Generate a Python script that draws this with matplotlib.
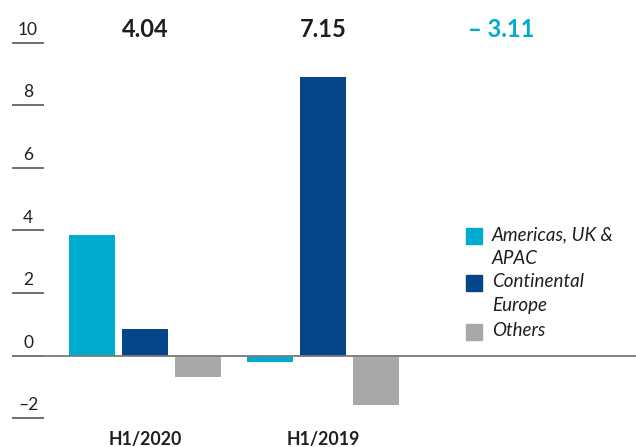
import matplotlib
matplotlib.use("Agg")
import matplotlib.pyplot as plt
from matplotlib.patches import Rectangle
import numpy as np

plt.rcParams['font.family'] = ['Lato', 'DejaVu Sans']

# ===== data =====
periods  = ["H1/2020", "H1/2019"]
regions  = ["Americas, UK &\nAPAC", "Continental\nEurope", "Others"]
americas = [3.87, -0.19]
europe   = [0.85, 8.90]
others   = [-0.68, -1.56]
totals   = ["4.04", "7.15", "– 3.11"]
yticks   = [10, 8, 6, 4, 2, 0, -2]
ytick_labels = ["10", "8", "6", "4", "2", "0", "–2"]

COLORS = ["#00acce", "#05458a", "#a8a8a8"]
TEXT = "#1e1e1e"

W, H = 636, 447
fig = plt.figure(figsize=(W / 100, H / 100), dpi=100)
ax = fig.add_axes([0, 0, 1, 1])
ax.set_xlim(-0.8146, 2.758)
ax.set_ylim(-2.917, 11.364)
ax.axis("off")

x = np.arange(len(periods))
width = 0.262
step = 0.298
for i, vals in enumerate([americas, europe, others]):
    ax.bar(x + (i - 1) * step, vals, width=width, color=COLORS[i], zorder=2)

# zero line across the full width
ax.hlines(0, -0.747, 2.758, color="#7a7a7a", lw=1.3, zorder=3)

# y ticks: short lines with labels above them
for v, lab in zip(yticks, ytick_labels):
    ax.hlines(v, -0.747, -0.567, color="#555555", lw=1.2)
    ax.text(-0.657, v + 0.25, lab, ha="center", va="baseline",
            fontsize=12.5, color=TEXT)

# totals on top
for i, t in enumerate(totals):
    ax.text(i, 10.41, t, ha="center", va="center", fontsize=17,
            fontweight="bold", color=COLORS[0] if i == 2 else TEXT)

# period labels below
for i, p in enumerate(periods):
    ax.text(i, -2.69, p, ha="center", va="center", fontsize=12.8,
            fontweight="bold", color=TEXT)

# legend drawn by hand
rows = [236, 283, 332]
for i, (lab, y) in enumerate(zip(regions, rows)):
    fig.patches.append(Rectangle((466 / W, 1 - (y + 8) / H), 16 / W, 16 / H,
                                 transform=fig.transFigure, color=COLORS[i]))
    fig.text(492 / W, 1 - (y - 10) / H, lab, ha="left", va="top",
             fontsize=13.5, style="italic", color=TEXT, linespacing=1.47)

fig.savefig("out.png", dpi=100)
